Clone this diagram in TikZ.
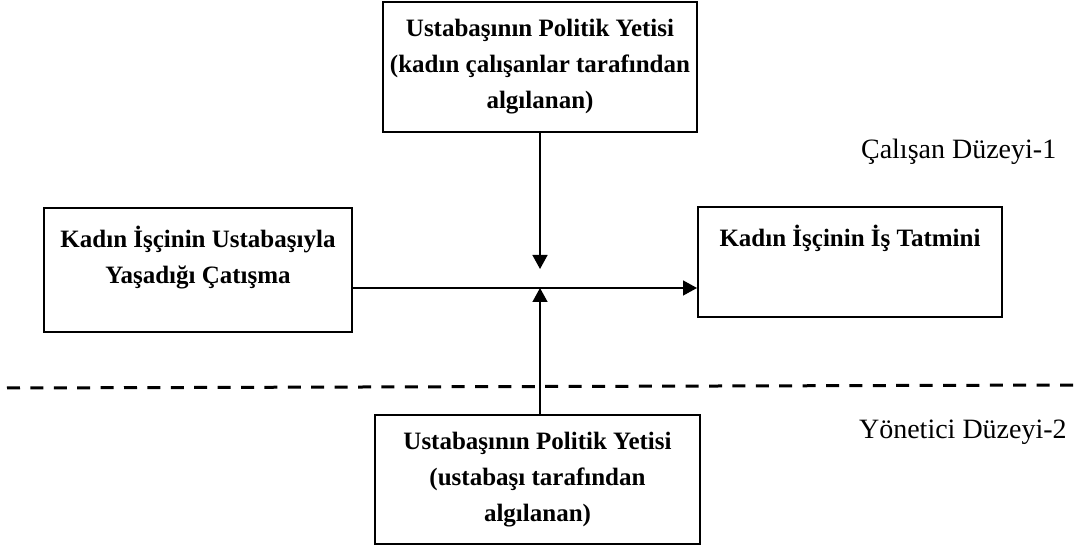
\documentclass[tikz,border=0pt]{standalone}
\usepackage{fontspec}
\setmainfont{Liberation Serif}
\usetikzlibrary{arrows.meta}

\begin{document}
\begin{tikzpicture}[x=0.5pt,y=-0.5pt,>={Triangle[length=7pt,width=7.5pt]},
 every node/.style={font=\fontsize{12.5}{18}\selectfont\bfseries,align=center},
 box/.style={draw,line width=1pt,inner sep=0pt},
 lvl/.style={font=\fontsize{14}{16}\selectfont,anchor=west},
 link/.style={->,line width=0.7pt}]
    \useasboundingbox (0,0) rectangle (1074,549);
    % boxes
    \node[box,minimum width=157pt,minimum height=65pt] (pol1) at (540,67)
      {Ustabaşının Politik Yetisi\\(kadın çalışanlar tarafından\\algılanan)};
    \node[box] (cat) at (198,270)
      {\parbox[c][62pt][t]{154pt}{\centering\rule{0pt}{20pt}Kadın İşçinin Ustabaşıyla\\Yaşadığı Çatışma}};
    \node[box] (sat) at (850,262)
      {\parbox[c][55pt][t]{152pt}{\centering\rule{0pt}{20pt}Kadın İşçinin İş Tatmini}};
    \node[box,minimum width=162.5pt,minimum height=64.5pt] (pol2) at (537.5,479.5)
      {Ustabaşının Politik Yetisi\\(ustabaşı tarafından\\algılanan)};
    % levels
    \node[lvl] (lv1) at (854,152) {Çalışan Düzeyi-1};
    \node[lvl] (lv2) at (852,432) {Yönetici Düzeyi-2};
    \draw[line width=1.5pt,dash pattern=on 6.5pt off 5.2pt] (7,388) -- (1074,385);
    % arrows
    \coordinate (jn) at (540,288);
    \draw[link] (cat.east |- jn) -- (sat.west |- jn);
    \draw[link] (pol1.south) -- ([yshift=9.5pt]jn);
    \draw[link] (pol2.north -| jn) -- (jn);
\end{tikzpicture}
\end{document}
